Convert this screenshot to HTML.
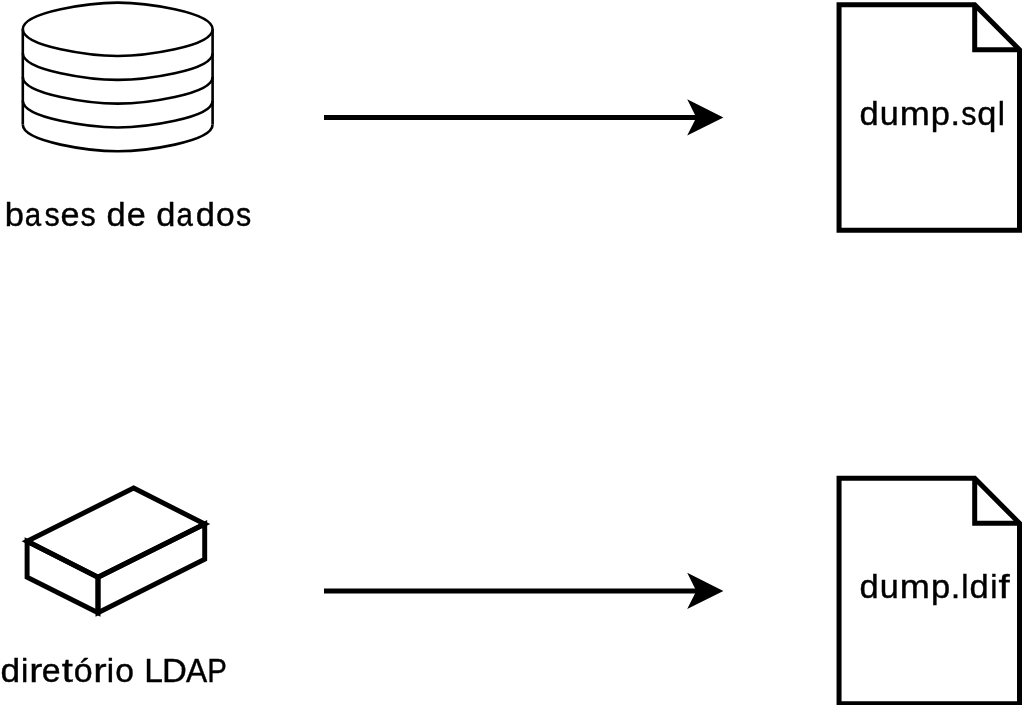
<!DOCTYPE html>
<html><head><meta charset="utf-8">
<style>
html,body{margin:0;padding:0;background:#fff;}
body{width:1024px;height:705px;overflow:hidden;position:relative;}
svg{position:absolute;left:0;top:0;will-change:transform;}
.t{font-family:"Liberation Sans",sans-serif;fill:#000;}
</style></head><body>
<svg width="1024" height="705" viewBox="0 0 1024 705">
<!-- database cylinder -->
<g fill="none" stroke="#000" stroke-width="2.6">
<path d="M22.8 29.3 C22.8 11.50 92.10 2.60 117.7 2.60 C143.30 2.60 212.6 11.50 212.6 29.3"/>
<path d="M22.8 29.30 C22.8 47.10 92.10 56.00 117.7 56.00 C143.30 56.00 212.6 47.10 212.6 29.30"/>
<path d="M22.8 53.13 C22.8 70.93 92.10 79.83 117.7 79.83 C143.30 79.83 212.6 70.93 212.6 53.13"/>
<path d="M22.8 76.96 C22.8 94.76 92.10 103.66 117.7 103.66 C143.30 103.66 212.6 94.76 212.6 76.96"/>
<path d="M22.8 100.79 C22.8 118.59 92.10 127.49 117.7 127.49 C143.30 127.49 212.6 118.59 212.6 100.79"/>
<path d="M22.8 124.62 C22.8 142.42 92.10 151.32 117.7 151.32 C143.30 151.32 212.6 142.42 212.6 124.62"/>
<path d="M22.8 29.3 V124.62 M212.6 29.3 V124.62"/>
</g>
<!-- arrows -->
<g stroke="#000" stroke-width="5" fill="none">
<path d="M324 117.5 H698"/>
<path d="M324 591 H698"/>
</g>
<g fill="#000">
<path d="M723.4 117.45 L687.2 99.3 L696.3 117.45 L687.2 135.6 Z"/>
<path d="M723.4 590.95 L687.2 572.8 L696.3 590.95 L687.2 609.1 Z"/>
</g>
<!-- documents -->
<g fill="none" stroke="#000" stroke-width="5" stroke-linejoin="miter" stroke-miterlimit="10">
<path d="M839.05 4.85 H974.7 L1019.5 49.7 V230.3 H839.05 Z"/>
<path d="M974.7 4.85 V49.7 H1019.5"/>
<path d="M839.05 478.3 H974.7 L1019.5 523.3 V703.7 H839.05 Z"/>
<path d="M974.7 478.3 V523.3 H1019.5"/>
</g>
<!-- LDAP box -->
<g fill="none" stroke="#000" stroke-width="4.95" stroke-linejoin="miter" stroke-miterlimit="10">
<path d="M133.6 488 L204.7 524.0 L98.0 577.2 L27.1 541.3 Z"/>
<path d="M27.1 541.3 L98.0 577.2 L98.0 612.7 L27.1 577.3 Z"/>
<path d="M98.0 577.2 L204.7 524.0 L204.7 559.2 L98.0 612.7 Z"/>
</g>
<!-- labels -->
<g class="t" font-size="33.5" stroke="#000" stroke-width="0.4">
<text y="226.0" lengthAdjust="spacingAndGlyphs"><tspan x="4.78" lengthAdjust="spacingAndGlyphs" textLength="19.18">b</tspan><tspan x="24.64" lengthAdjust="spacingAndGlyphs" textLength="16.40">a</tspan><tspan x="44.54" lengthAdjust="spacingAndGlyphs" textLength="15.19">s</tspan><tspan x="60.48" lengthAdjust="spacingAndGlyphs" textLength="19.04">e</tspan><tspan x="80.56" lengthAdjust="spacingAndGlyphs" textLength="15.19">s</tspan> <tspan x="106.58" lengthAdjust="spacingAndGlyphs" textLength="19.16">d</tspan><tspan x="126.69" lengthAdjust="spacingAndGlyphs" textLength="19.04">e</tspan> <tspan x="156.28" lengthAdjust="spacingAndGlyphs" textLength="19.16">d</tspan><tspan x="176.49" lengthAdjust="spacingAndGlyphs" textLength="16.40">a</tspan><tspan x="195.82" lengthAdjust="spacingAndGlyphs" textLength="19.16">d</tspan><tspan x="215.97" lengthAdjust="spacingAndGlyphs" textLength="18.74">o</tspan><tspan x="235.91" lengthAdjust="spacingAndGlyphs" textLength="15.19">s</tspan></text>
<text y="682.0" lengthAdjust="spacingAndGlyphs"><tspan x="0.57" lengthAdjust="spacingAndGlyphs" textLength="19.60">d</tspan><tspan x="20.89" lengthAdjust="spacingAndGlyphs" textLength="7.33">i</tspan><tspan x="29.38" lengthAdjust="spacingAndGlyphs" textLength="13.12">r</tspan><tspan x="41.86" lengthAdjust="spacingAndGlyphs" textLength="18.85">e</tspan><tspan x="61.71" lengthAdjust="spacingAndGlyphs" textLength="11.17">t</tspan><tspan x="73.77" lengthAdjust="spacingAndGlyphs" textLength="18.90">ó</tspan><tspan x="93.16" lengthAdjust="spacingAndGlyphs" textLength="13.39">r</tspan><tspan x="106.79" lengthAdjust="spacingAndGlyphs" textLength="7.33">i</tspan><tspan x="115.29" lengthAdjust="spacingAndGlyphs" textLength="18.73">o</tspan> <tspan x="144.25" lengthAdjust="spacingAndGlyphs" textLength="18.67">L</tspan><tspan x="162.07" lengthAdjust="spacingAndGlyphs" textLength="24.87">D</tspan><tspan x="186.04" lengthAdjust="spacingAndGlyphs" textLength="21.22">A</tspan><tspan x="207.34" lengthAdjust="spacingAndGlyphs" textLength="19.66">P</tspan></text>
<text y="125.0" lengthAdjust="spacingAndGlyphs"><tspan x="859.45" lengthAdjust="spacingAndGlyphs" textLength="19.16">d</tspan><tspan x="879.74" lengthAdjust="spacingAndGlyphs" textLength="19.01">u</tspan><tspan x="899.84" lengthAdjust="spacingAndGlyphs" textLength="30.08">m</tspan><tspan x="930.89" lengthAdjust="spacingAndGlyphs" textLength="19.18">p</tspan><tspan x="950.61" lengthAdjust="spacingAndGlyphs" textLength="9.53">.</tspan><tspan x="961.30" lengthAdjust="spacingAndGlyphs" textLength="15.19">s</tspan><tspan x="977.25" lengthAdjust="spacingAndGlyphs" textLength="19.14">q</tspan><tspan x="997.87" lengthAdjust="spacingAndGlyphs" textLength="7.20">l</tspan></text>
<text y="598.0" lengthAdjust="spacingAndGlyphs"><tspan x="859.45" lengthAdjust="spacingAndGlyphs" textLength="19.17">d</tspan><tspan x="879.75" lengthAdjust="spacingAndGlyphs" textLength="19.02">u</tspan><tspan x="899.86" lengthAdjust="spacingAndGlyphs" textLength="30.10">m</tspan><tspan x="930.93" lengthAdjust="spacingAndGlyphs" textLength="19.19">p</tspan><tspan x="950.66" lengthAdjust="spacingAndGlyphs" textLength="9.53">.</tspan><tspan x="961.28" lengthAdjust="spacingAndGlyphs" textLength="7.20">l</tspan><tspan x="969.59" lengthAdjust="spacingAndGlyphs" textLength="19.17">d</tspan><tspan x="990.24" lengthAdjust="spacingAndGlyphs" textLength="7.20">i</tspan><tspan x="998.58" lengthAdjust="spacingAndGlyphs" textLength="11.17">f</tspan></text>
</g>
</svg>
</body></html>
